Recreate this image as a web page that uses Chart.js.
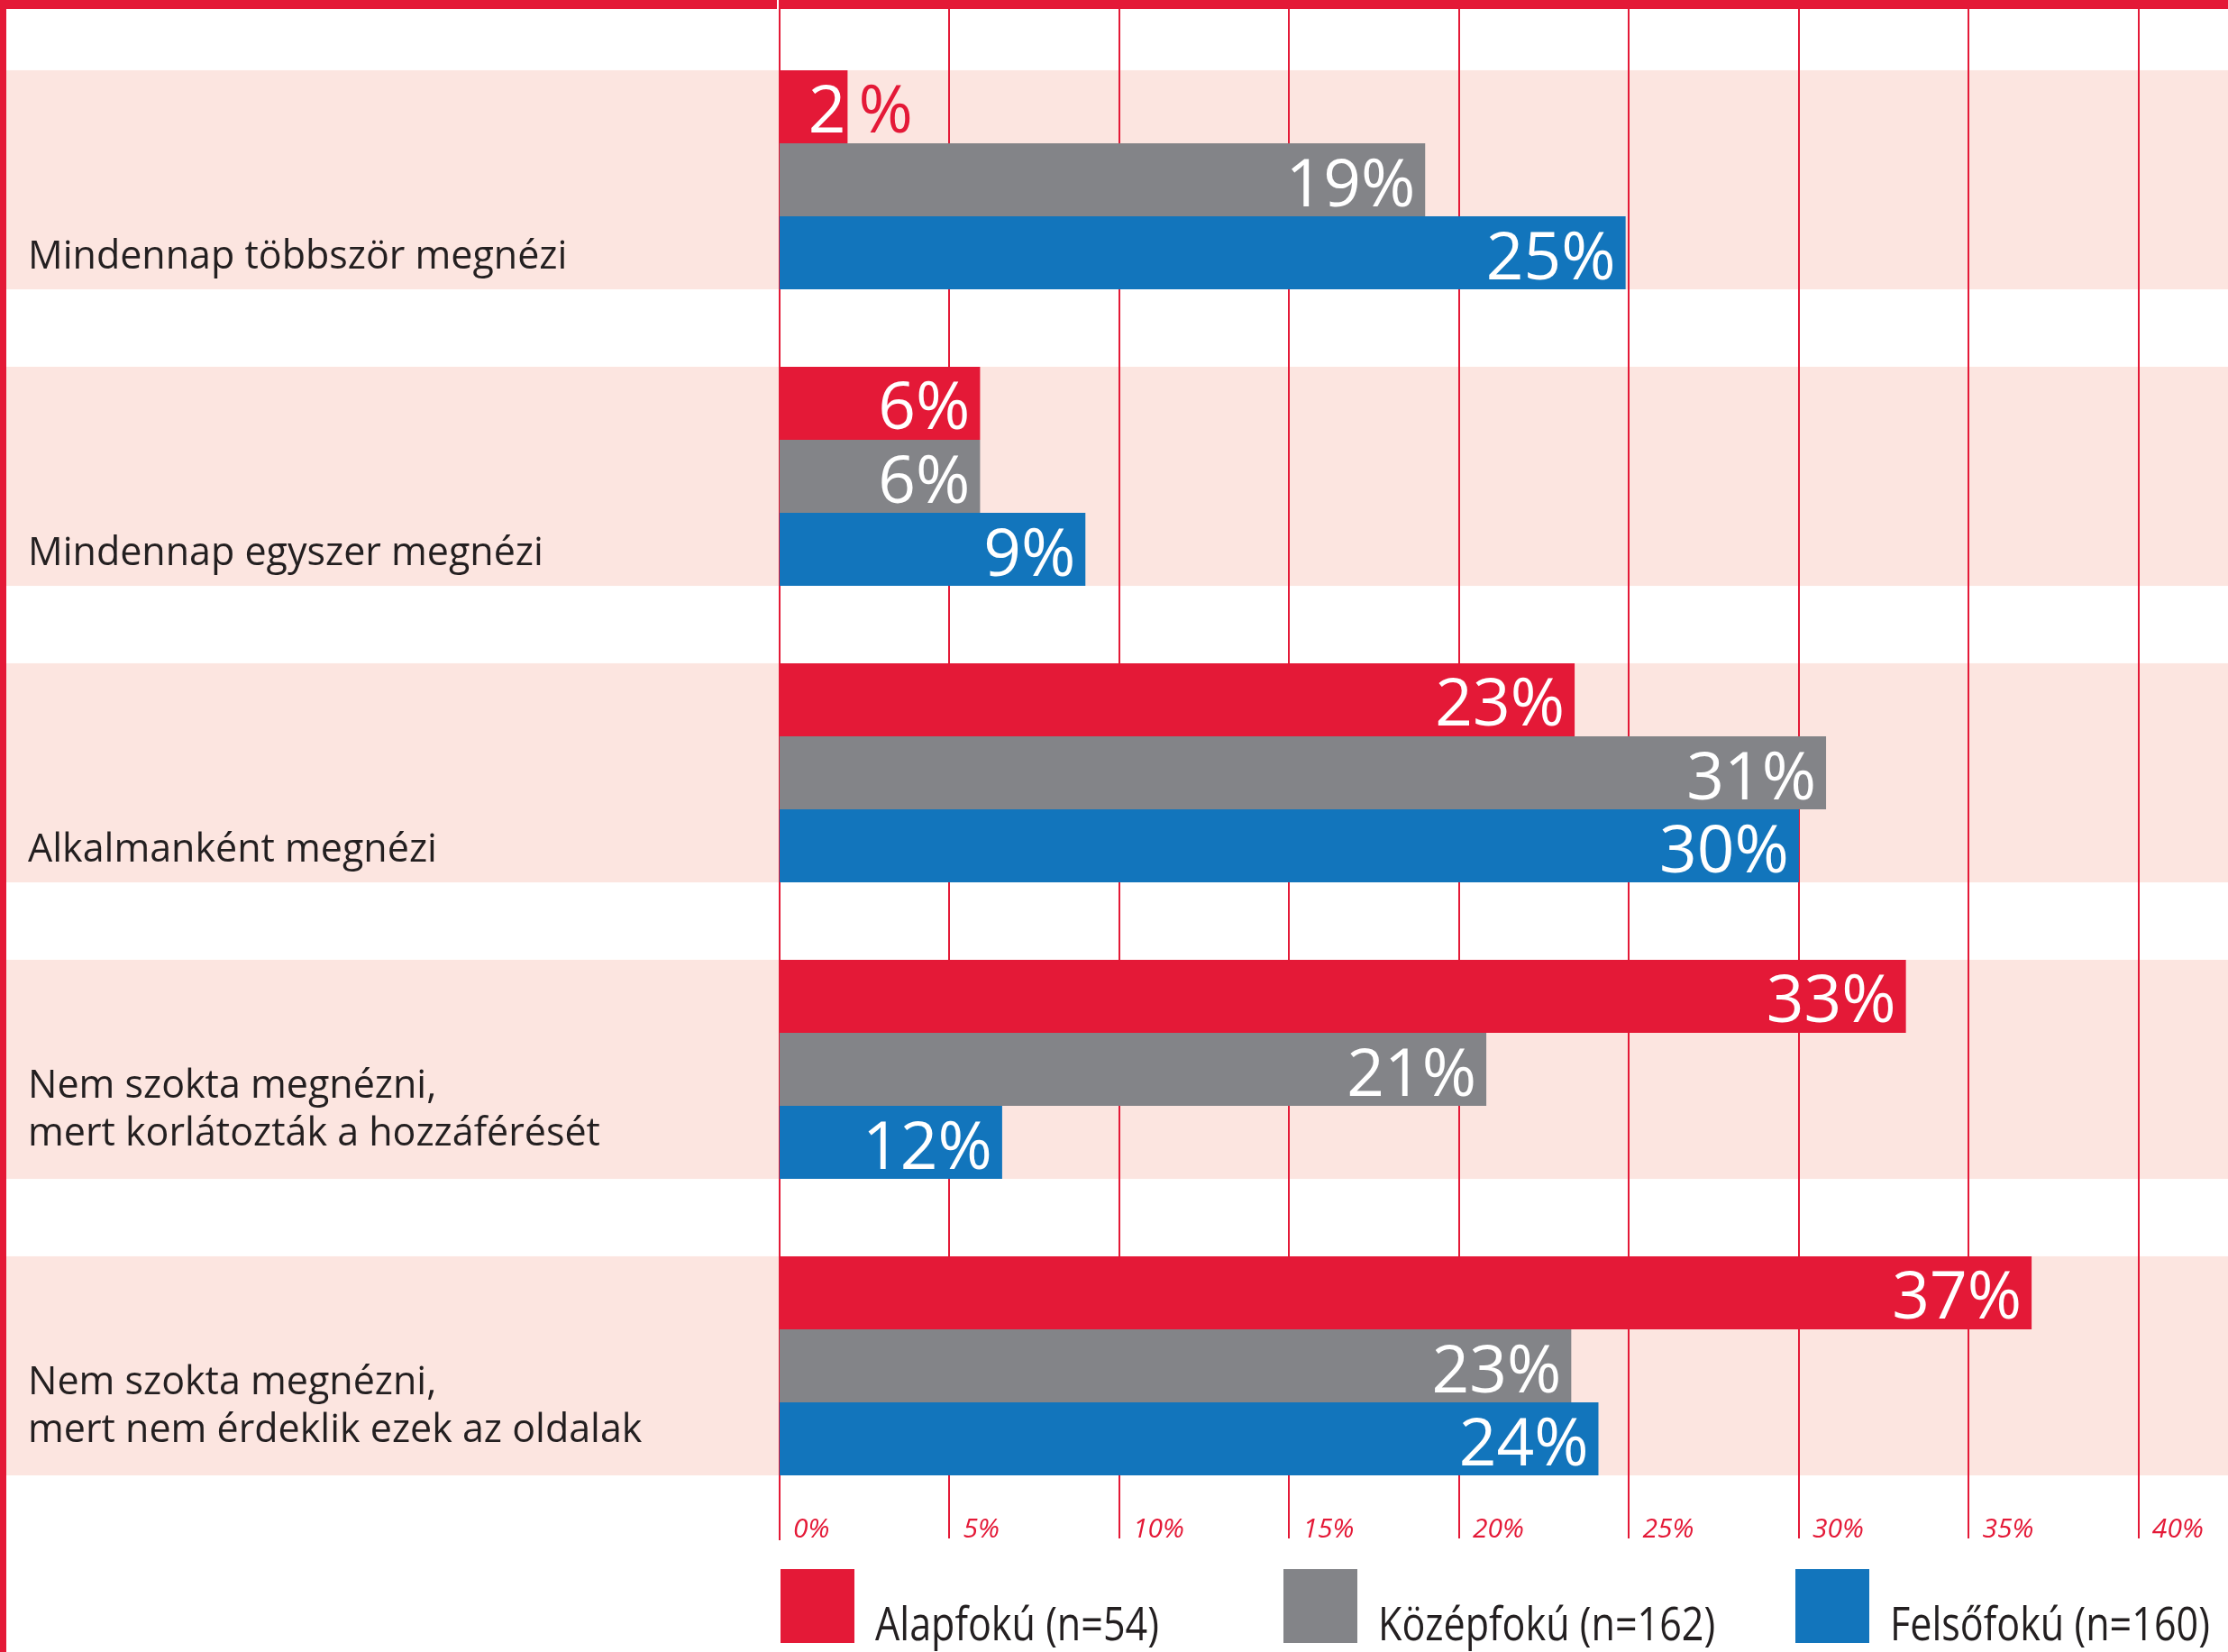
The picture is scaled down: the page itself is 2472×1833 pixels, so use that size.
<!DOCTYPE html>
<html>
<head>
<meta charset="utf-8">
<script src="https://cdn.jsdelivr.net/npm/chart.js@4.4.1/dist/chart.umd.min.js"></script>
<style>
html,body{margin:0;padding:0;background:#fff;overflow:hidden}
#wrap{position:relative;width:2472px;height:1833px}
canvas{display:block}
</style>
</head>
<body>
<div id="wrap"><canvas id="c" width="2472" height="1833"></canvas></div>
<script>
// ---- data ----
const categories = [
  ['Mindennap többször megnézi'],
  ['Mindennap egyszer megnézi'],
  ['Alkalmanként megnézi'],
  ['Nem szokta megnézni,', 'mert korlátozták a hozzáférését'],
  ['Nem szokta megnézni,', 'mert nem érdeklik ezek az oldalak']
];
const seriesNames = ['Alapfokú (n=54)', 'Középfokú (n=162)', 'Felsőfokú (n=160)'];
// bar lengths as drawn in the picture
const alapfoku  = [2.0, 5.9, 23.4, 33.15, 36.85];
const kozepfoku = [19.0, 5.9, 30.8, 20.8, 23.3];
const felsofoku = [24.9, 9.0, 30.0, 6.55, 24.1];
// percentages printed on the bars
const alapfokuLabels  = [2, 6, 23, 33, 37];
const kozepfokuLabels = [19, 6, 31, 21, 23];
const felsofokuLabels = [25, 9, 30, 12, 24];
const xTicks = [0, 5, 10, 15, 20, 25, 30, 35, 40];

// ---- styles ----
const RED = '#E41937', GRAY = '#838488', BLUE = '#1275BC', PINK = '#FCE5E0', INK = '#231F20';
const printed = [alapfokuLabels, kozepfokuLabels, felsofokuLabels];

const decor = {
  id: 'decor',
  beforeDraw(chart) {
    const ctx = chart.ctx;
    ctx.save();
    ctx.fillStyle = '#fff';
    ctx.fillRect(0, 0, chart.width, chart.height);
    ctx.restore();
  },
  beforeDatasetsDraw(chart) {
    const ctx = chart.ctx;
    const m0 = chart.getDatasetMeta(0), m2 = chart.getDatasetMeta(2);
    ctx.save();
    ctx.fillStyle = PINK;
    m0.data.forEach((b, i) => {
      const top = b.y - b.height / 2;
      const b2 = m2.data[i];
      const bot = b2.y + b2.height / 2;
      ctx.fillRect(7, top, chart.width - 7, bot - top);
    });
    // vertical grid lines
    const xs = chart.scales.x;
    ctx.fillStyle = RED;
    xs.ticks.forEach(t => {
      const px = Math.round(xs.getPixelForValue(t.value));
      const bottom = t.value === 0 ? 1709 : 1707;
      ctx.fillRect(px - 1, 10, 2, bottom - 10);
    });
    ctx.restore();
  },
  afterDatasetsDraw(chart) {
    const ctx = chart.ctx;
    ctx.save();
    // value labels
    ctx.font = '73px "Open Sans"';
    ctx.textBaseline = 'alphabetic';
    chart.data.datasets.forEach((ds, d) => {
      const meta = chart.getDatasetMeta(d);
      meta.data.forEach((bar, i) => {
        const txt = printed[d][i] + '%';
        const w = ctx.measureText(txt).width;
        const base = bar.base, end = bar.x;
        const yb = bar.y + 29;
        if (w + 22 <= end - base) {
          ctx.fillStyle = '#fff';
          ctx.textAlign = 'right';
          ctx.fillText(txt, end - 11, yb);
        } else {
          ctx.textAlign = 'right';
          ctx.fillStyle = '#fff';
          ctx.fillText(String(printed[d][i]), end - 2, yb);
          ctx.textAlign = 'left';
          ctx.fillStyle = ds.backgroundColor;
          ctx.fillText('%', end + 12, yb);
        }
      });
    });
    // category labels
    ctx.font = '43px "Open Sans"';
    ctx.fillStyle = INK;
    ctx.textAlign = 'left';
    const m2 = chart.getDatasetMeta(2);
    chart.data.labels.forEach((lines, i) => {
      const n = lines.length;
      const yLast = m2.data[i].y + 17 - 14 * (n - 1);
      lines.forEach((ln, k) => ctx.fillText(ln, 31, yLast - (n - 1 - k) * 53));
    });
    // legend
    const legendX = [866, 1424, 1992];
    const squeeze = 0.845;
    ctx.font = '51px "Open Sans"';
    chart.data.datasets.forEach((ds, i) => {
      ctx.fillStyle = ds.backgroundColor;
      ctx.fillRect(legendX[i], 1741, 82, 82);
      ctx.save();
      ctx.fillStyle = INK;
      ctx.translate(legendX[i] + 82 + 23, 1820);
      ctx.scale(squeeze, 1);
      ctx.fillText(ds.label, 0, 0);
      ctx.restore();
    });
    // frame
    const zx = Math.round(chart.scales.x.getPixelForValue(0));
    ctx.fillStyle = RED;
    ctx.fillRect(0, 0, zx - 3, 10);
    ctx.fillRect(zx - 1, 0, chart.width - zx + 1, 10);
    ctx.fillRect(0, 0, 7, chart.height);
    ctx.restore();
  }
};

new Chart(document.getElementById('c'), {
  type: 'bar',
  data: {
    labels: categories,
    datasets: [
      { label: seriesNames[0], data: alapfoku,  backgroundColor: RED },
      { label: seriesNames[1], data: kozepfoku, backgroundColor: GRAY },
      { label: seriesNames[2], data: felsofoku, backgroundColor: BLUE }
    ]
  },
  options: {
    indexAxis: 'y',
    responsive: false,
    devicePixelRatio: 1,
    animation: false,
    events: [],
    layout: { padding: { left: 865, top: 35, right: 0, bottom: 0 } },
    datasets: { bar: { categoryPercentage: 0.739, barPercentage: 1.0, borderWidth: 0 } },
    plugins: { legend: { display: false }, tooltip: { enabled: false } },
    scales: {
      x: {
        type: 'linear', position: 'bottom', min: 0, max: 42.63,
        grid: { display: false, drawTicks: false },
        border: { display: false },
        afterBuildTicks: s => { s.ticks = xTicks.map(v => ({ value: v })); },
        afterFit: s => { s.height = 153; },
        ticks: {
          align: 'start', labelOffset: 15, padding: 2,
          color: RED,
          font: { family: '"Open Sans"', size: 30, style: 'italic', lineHeight: 1 },
          callback: v => v + '%'
        }
      },
      y: { type: 'category', display: false, offset: true, grid: { display: false } }
    }
  },
  plugins: [decor]
});
</script>
</body>
</html>
